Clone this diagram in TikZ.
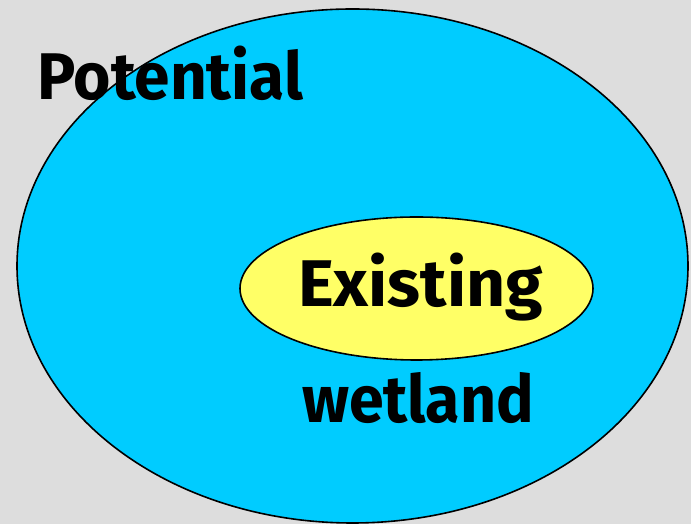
\documentclass[tikz,border=0pt]{standalone}
\usepackage{fontspec}
\setmainfont{Fira Sans}
\definecolor{bgray}{HTML}{DDDDDD}
\definecolor{skycyan}{HTML}{00CCFF}
\definecolor{paleyellow}{HTML}{FFFF66}
\begin{document}
\begin{tikzpicture}[x=1pt,y=1pt,
  lbl/.style={inner sep=0pt,anchor=base west,font=\fontsize{66}{70}\selectfont\bfseries,transform shape},
  region/.style={draw=black,line width=1.6pt}]
\fill[bgray] (0,0) rectangle (691,524);
\useasboundingbox (0,0) rectangle (691,524);
\draw[region,fill=skycyan] (352.5,258) ellipse [x radius=335.5, y radius=257];
\draw[region,fill=paleyellow] (416.5,235.5) ellipse [x radius=176.5, y radius=71.5];
\node[lbl,xscale=0.97] (potential) at (37,424) {Potential};
\node[lbl,xscale=1.03] (existing) at (298,217) {Existing};
\node[lbl,xscale=0.95] (wetland) at (302,101) {wetland};
\end{tikzpicture}
\end{document}
